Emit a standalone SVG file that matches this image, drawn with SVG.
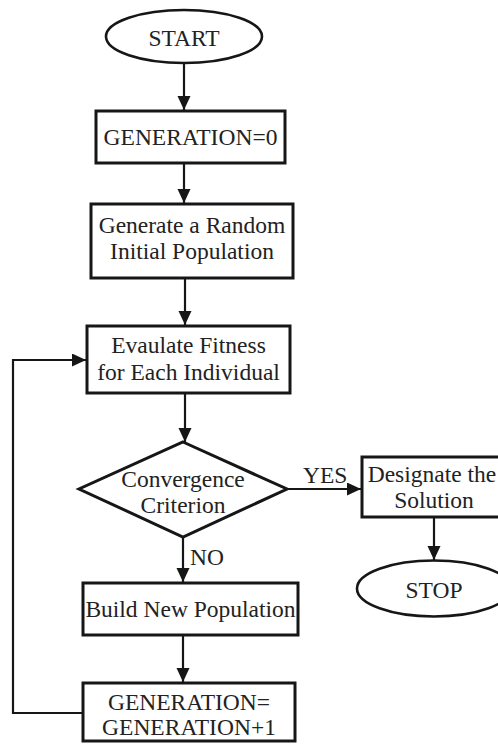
<svg xmlns="http://www.w3.org/2000/svg" width="498" height="744" viewBox="0 0 498 744">
  <style>
    .shape { fill: #ffffff; stroke: #161616; stroke-width: 3; }
    .oval { fill: #ffffff; stroke: #161616; stroke-width: 2.6; }
    .conn { fill: none; stroke: #161616; stroke-width: 2.2; }
    text { font-family: "Liberation Serif", "Times New Roman", serif; font-size: 23.5px; fill: #222222; text-anchor: middle; }
    .lbl { text-anchor: start; }
  </style>
  <defs>
    <marker id="arrow" markerUnits="userSpaceOnUse" markerWidth="14" markerHeight="14" refX="14" refY="6.5" orient="auto">
      <path d="M0,0 L14,6.5 L0,13 z" fill="#161616"/>
    </marker>
  </defs>
  <rect width="498" height="744" fill="#ffffff"/>

  <g id="connectors">
    <line class="conn" x1="184" y1="63" x2="184" y2="110" marker-end="url(#arrow)"/>
    <line class="conn" x1="184" y1="163" x2="184" y2="203" marker-end="url(#arrow)"/>
    <line class="conn" x1="185" y1="278" x2="185" y2="325" marker-end="url(#arrow)"/>
    <line class="conn" x1="185" y1="393" x2="185" y2="442" marker-end="url(#arrow)"/>
    <line class="conn" x1="287" y1="489" x2="361" y2="489" marker-end="url(#arrow)"/>
    <line class="conn" x1="183" y1="537" x2="183" y2="582" marker-end="url(#arrow)"/>
    <line class="conn" x1="434" y1="517" x2="434" y2="560" marker-end="url(#arrow)"/>
    <line class="conn" x1="183" y1="635" x2="183" y2="682" marker-end="url(#arrow)"/>
    <path class="conn" d="M83,713 L13,713 L13,360 L86,360" marker-end="url(#arrow)"/>
    <text class="lbl" x="303" y="483">YES</text>
    <text class="lbl" x="190" y="565">NO</text>
  </g>

  <g id="start">
    <ellipse class="oval" cx="184" cy="36.5" rx="78" ry="26.5"/>
    <text x="184" y="46">START</text>
  </g>

  <g id="gen0">
    <rect class="shape" x="96" y="111" width="189" height="52"/>
    <text x="190.5" y="145">GENERATION=0</text>
  </g>

  <g id="init">
    <rect class="shape" x="91" y="204" width="202" height="74"/>
    <text x="192" y="233">Generate a Random</text>
    <text x="192" y="259">Initial Population</text>
  </g>

  <g id="evaluate">
    <rect class="shape" x="87" y="326" width="203" height="67"/>
    <text x="188.5" y="353">Evaulate Fitness</text>
    <text x="188.5" y="380">for Each Individual</text>
  </g>

  <g id="converge">
    <polygon class="shape" points="183,442 287,489 183,537 79,489"/>
    <text x="183" y="487">Convergence</text>
    <text x="183" y="513">Criterion</text>
  </g>

  <g id="designate">
    <rect class="shape" x="362" y="457" width="150" height="60"/>
    <text x="432" y="482">Designate the</text>
    <text x="434" y="508">Solution</text>
  </g>

  <g id="stop">
    <ellipse class="oval" cx="434" cy="588.5" rx="77" ry="28"/>
    <text x="434" y="598">STOP</text>
  </g>

  <g id="build">
    <rect class="shape" x="83" y="583" width="215" height="52"/>
    <text x="190.5" y="617">Build New Population</text>
  </g>

  <g id="genplus">
    <rect class="shape" x="83" y="683" width="212" height="58"/>
    <text x="189" y="710">GENERATION=</text>
    <text x="189" y="735">GENERATION+1</text>
  </g>
</svg>
